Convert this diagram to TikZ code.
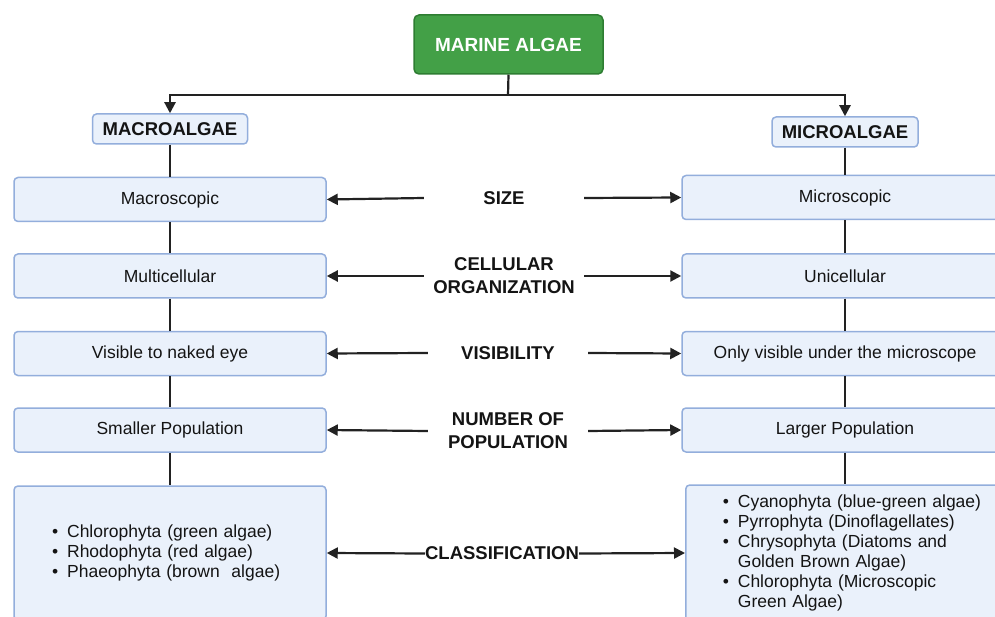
\documentclass[tikz,border=0pt]{standalone}
\usepackage{fontspec}
\setmainfont{Liberation Sans}
\usetikzlibrary{arrows.meta}
\definecolor{boxfill}{HTML}{EAF1FB}
\definecolor{boxline}{HTML}{93AEDC}
\definecolor{greenfill}{HTML}{43A047}
\definecolor{greenline}{HTML}{2E7D32}
\definecolor{ink}{HTML}{222222}
\definecolor{textc}{HTML}{141414}

\begin{document}
\begin{tikzpicture}[x=1pt,y=-1pt,
  every node/.style={inner sep=0pt, text=textc},
  infobox/.style={draw=boxline, fill=boxfill, line width=1.5pt, rounded corners=4pt,
    font=\fontsize{17.5}{20}\selectfont, align=center, minimum height=44pt},
  listbox/.style={draw=boxline, fill=boxfill, line width=1.5pt, rounded corners=4pt,
    font=\fontsize{17.5}{20}\selectfont, align=left},
  headbox/.style={draw=boxline, fill=boxfill, line width=1.5pt, rounded corners=4pt,
    font=\bfseries\fontsize{18.5}{22}\selectfont, minimum height=30pt},
  rootbox/.style={draw=greenline, fill=greenfill, line width=1.5pt, rounded corners=5pt,
    text=white, font=\bfseries\fontsize{19}{22}\selectfont,
    minimum width=189pt, minimum height=59pt},
  midlabel/.style={font=\bfseries\fontsize{18.5}{23}\selectfont, align=center,
    minimum width=160pt},
  link/.style={draw=ink, line width=2.2pt},
  arr/.style={link, -{Triangle[length=11pt,width=11pt]}},
]
\useasboundingbox (0,0) rectangle (995,617);
\clip (0,0) rectangle (995,617);
\fill[white] (0,0) rectangle (995,617);

% root and the two groups
\node[rootbox] (marine) at (508.5,44.5) {MARINE ALGAE};
\node[headbox, minimum width=155pt] (macro) at (170,129) {MACROALGAE};
\node[headbox, minimum width=146pt] (micro) at (845,132) {MICROALGAE};

% left column
\node[infobox, minimum width=312pt] (L1) at (170,199.5) {Macroscopic};
\node[infobox, minimum width=312pt] (L2) at (170,276) {Multicellular};
\node[infobox, minimum width=312pt] (L3) at (170,353.5) {Visible to naked eye};
\node[infobox, minimum width=312pt] (L4) at (170,430) {Smaller Population};
\node[listbox, text width=236pt, inner xsep=38pt, minimum height=134pt] (L5) at (170,553) {%
  \begin{tabular}{@{}l@{\hspace{9pt}}l@{}}
  \textbullet & Chlorophyta (green algae)\\
  \textbullet & Rhodophyta (red algae)\\
  \textbullet & Phaeophyta (brown\ \ algae)
  \end{tabular}};

% right column
\node[infobox, minimum width=326pt] (R1) at (845,197.5) {Microscopic};
\node[infobox, minimum width=326pt] (R2) at (845,276) {Unicellular};
\node[infobox, minimum width=326pt] (R3) at (845,353.5) {Only visible under the microscope};
\node[infobox, minimum width=326pt] (R4) at (845,430) {Larger Population};
\node[listbox, anchor=west, text width=262pt, inner xsep=37pt, minimum height=136pt] (R5) at (685,553) {%
  \begin{tabular}{@{}l@{\hspace{9pt}}l@{}}
  \textbullet & Cyanophyta (blue-green algae)\\
  \textbullet & Pyrrophyta (Dinoflagellates)\\
  \textbullet & Chrysophyta (Diatoms and\\
              & Golden Brown Algae)\\
  \textbullet & Chlorophyta (Microscopic\\
              & Green Algae)
  \end{tabular}};

% comparison criteria
\node[midlabel] (size) at (504,198) {SIZE};
\node[midlabel] (cell) at (504,276) {CELLULAR\\ORGANIZATION};
\node[midlabel] (vis)  at (508,353) {VISIBILITY};
\node[midlabel] (num)  at (508,431) {NUMBER OF\\POPULATION};
\node[midlabel, minimum width=0pt] (cls) at (502,553.5) {CLASSIFICATION};

% split from the root
\coordinate (split) at (508,95);
\draw[link] (marine.south) -- (split);
\draw[arr] (split) -| (macro.north);
\draw[arr] (split) -| (micro.north);

% column spines
\draw[link] (macro.south) -- (L1.north);
\draw[link] (L1.south) -- (L2.north);
\draw[link] (L2.south) -- (L3.north);
\draw[link] (L3.south) -- (L4.north);
\draw[link] (L4.south) -- (L5.north);
\draw[link] (micro.south) -- (R1.north);
\draw[link] (R1.south) -- (R2.north);
\draw[link] (R2.south) -- (R3.north);
\draw[link] (R3.south) -- (R4.north);
\draw[link] (R4.south) -- (R4.south |- R5.north);

% criteria arrows
\draw[arr] (size.west) -- (L1.east);
\draw[arr] (size.east) -- (R1.west);
\draw[arr] (cell.west) -- (L2.east);
\draw[arr] (cell.east) -- (R2.west);
\draw[arr] (vis.west) -- (L3.east);
\draw[arr] (vis.east) -- (R3.west);
\draw[arr] (num.west) -- (L4.east);
\draw[arr] (num.east) -- (R4.west);
\draw[arr] (cls.west) -- (L5.east);
\draw[arr] (cls.east) -- (R5.west);
\end{tikzpicture}
\end{document}
